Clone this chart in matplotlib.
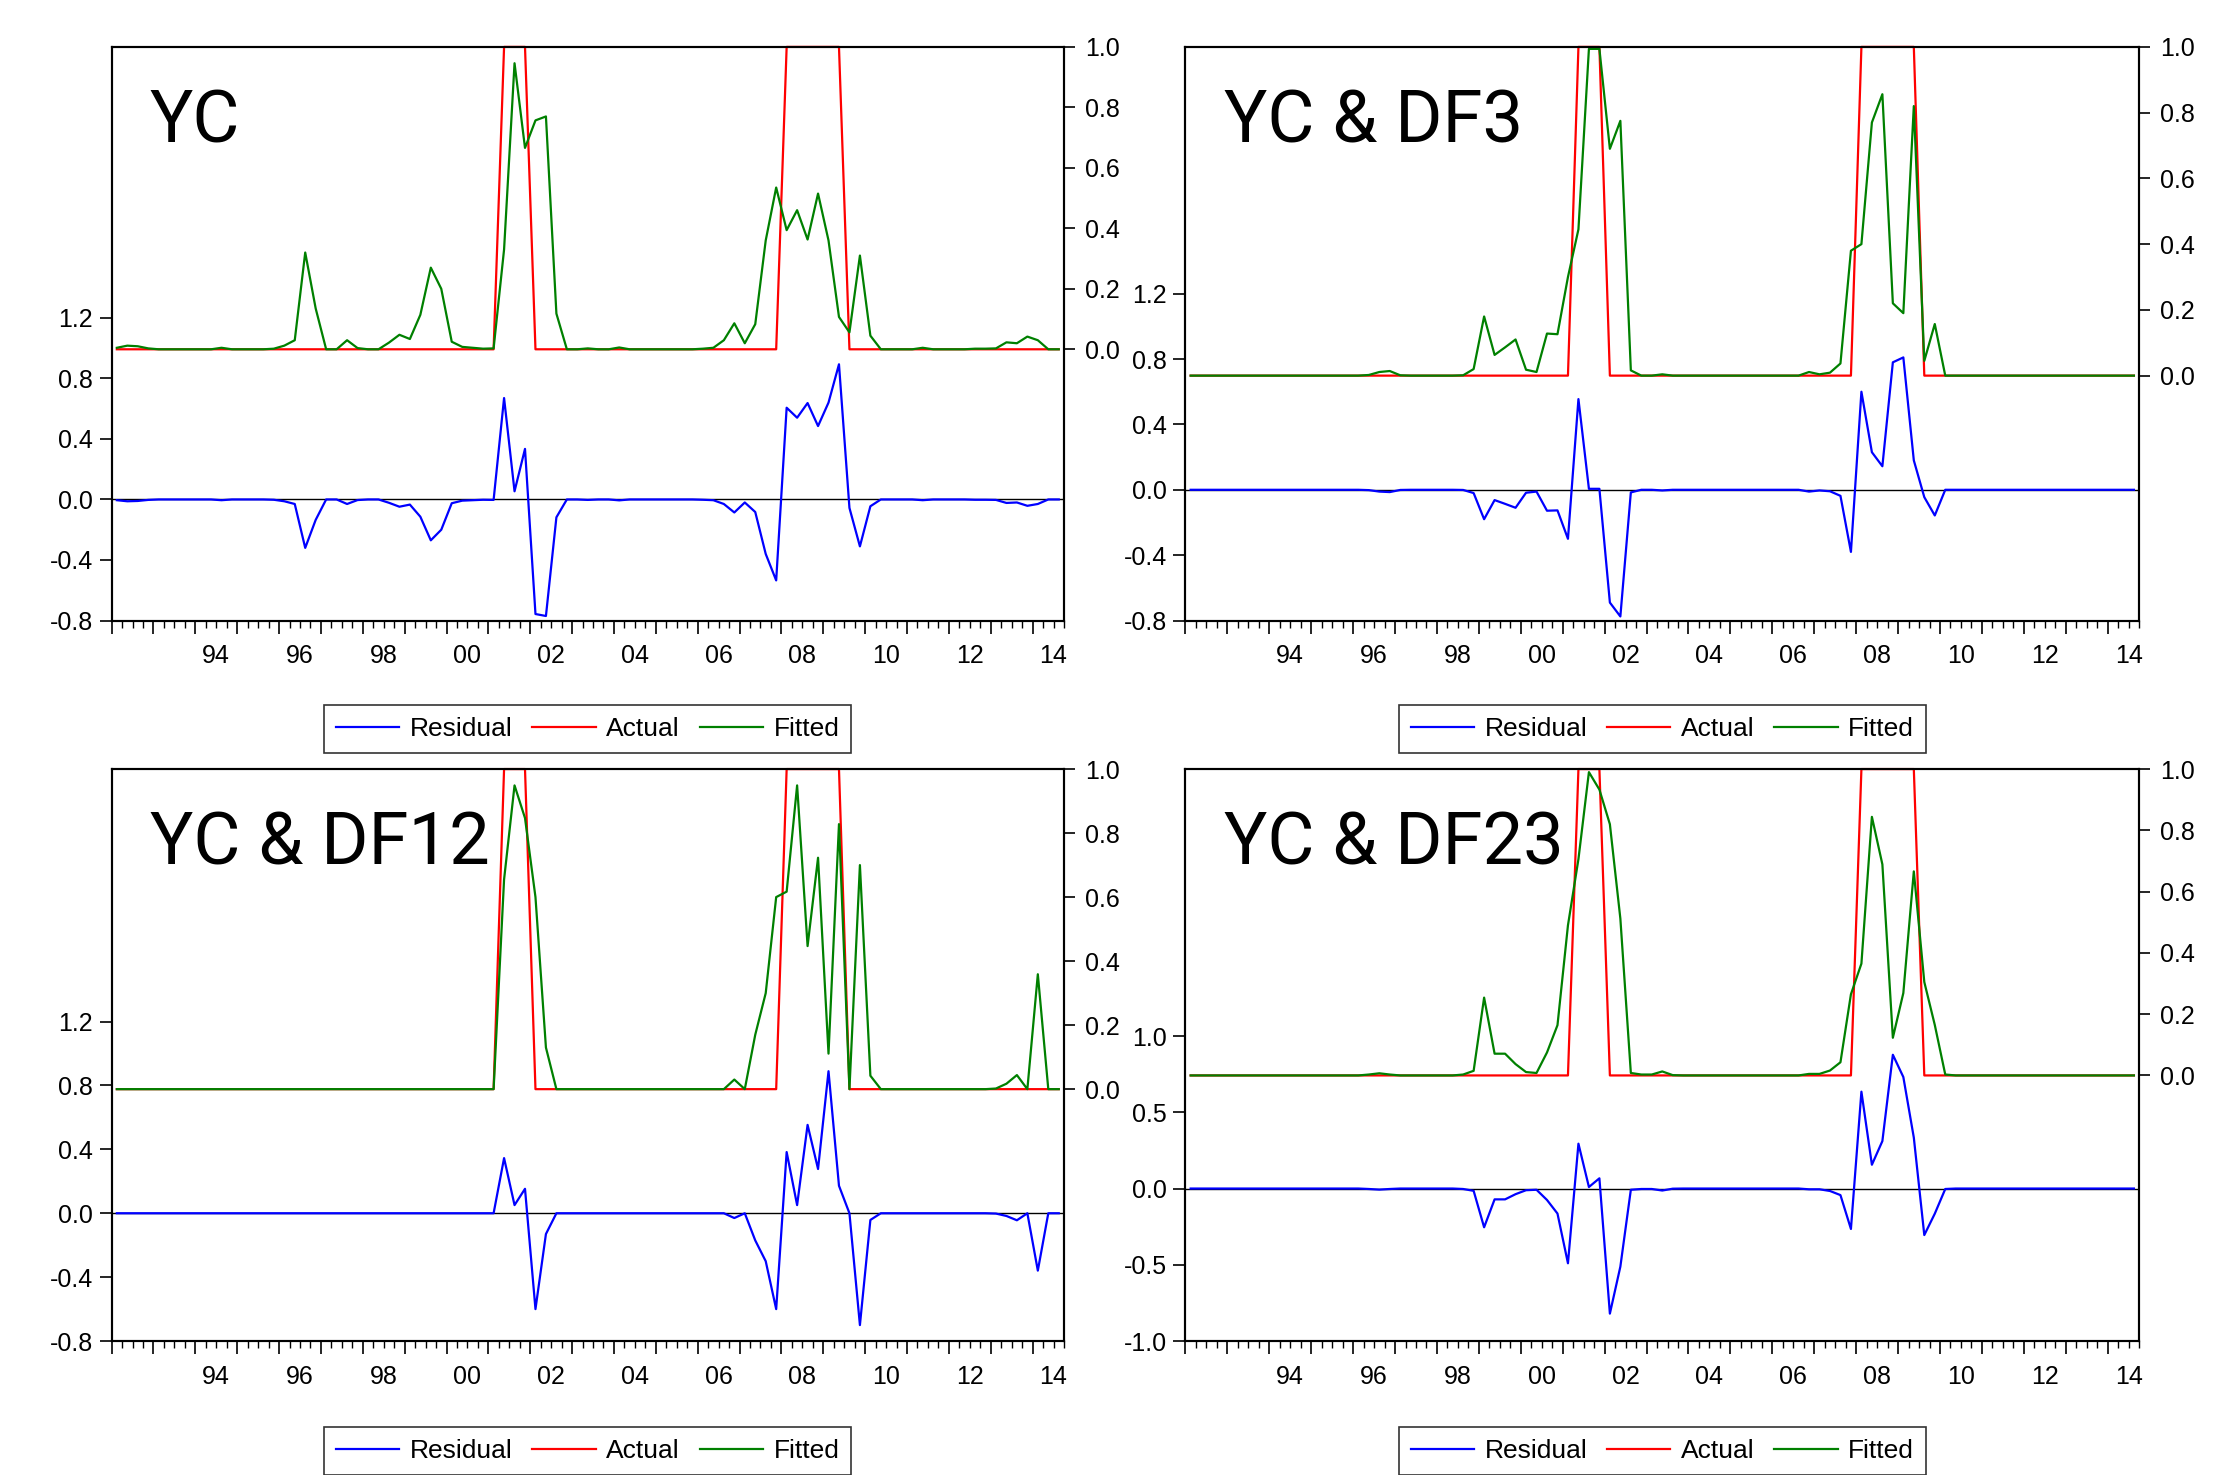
import numpy as np
import pandas as pd
import matplotlib.pyplot as plt
from matplotlib.ticker import FormatStrFormatter

plt.rcParams['font.family'] = ['Liberation Sans', 'DejaVu Sans']

# quarterly sample 1992Q1 - 2014Q3
quarters = pd.period_range("1992Q1", "2014Q3", freq="Q")

# recession indicator (actual)
actual = [0] * 37 + [1, 1, 1] + [0] * 24 + [1, 1, 1, 1, 1, 1] + [0] * 21

# fitted probabilities
fitted_yc = [
    0.005, 0.012, 0.010, 0.003, 0.0, 0.0, 0.0, 0.0, 0.0, 0.0,
    0.005, 0.0, 0.0, 0.0, 0.0, 0.002, 0.012, 0.030, 0.320, 0.135,
    0.0, 0.0, 0.030, 0.004, 0.0, 0.0, 0.022, 0.048, 0.034, 0.114,
    0.270, 0.200, 0.025, 0.008, 0.005, 0.002, 0.003, 0.330, 0.946, 0.666,
    0.757, 0.770, 0.118, 0.0, 0.0, 0.003, 0.0, 0.0, 0.006, 0.0,
    0.0, 0.0, 0.0, 0.0, 0.0, 0.0, 0.002, 0.005, 0.030, 0.086,
    0.020, 0.083, 0.360, 0.535, 0.394, 0.460, 0.363, 0.515, 0.360, 0.107,
    0.056, 0.310, 0.045, 0.0, 0.0, 0.0, 0.0, 0.005, 0.0, 0.0,
    0.0, 0.0, 0.002, 0.002, 0.003, 0.023, 0.020, 0.042, 0.030, 0.0,
    0.0,
]
fitted_df3 = [
    0.0, 0.0, 0.0, 0.0, 0.0, 0.0, 0.0, 0.0, 0.0, 0.0,
    0.0, 0.0, 0.0, 0.0, 0.0, 0.0, 0.0, 0.002, 0.011, 0.014,
    0.001, 0.0, 0.0, 0.0, 0.0, 0.0, 0.001, 0.020, 0.180, 0.063,
    0.086, 0.110, 0.018, 0.011, 0.128, 0.126, 0.300, 0.445, 0.994, 0.994,
    0.690, 0.775, 0.016, 0.0, 0.0, 0.004, 0.0, 0.0, 0.0, 0.0,
    0.0, 0.0, 0.0, 0.0, 0.0, 0.0, 0.0, 0.0, 0.0, 0.011,
    0.004, 0.009, 0.037, 0.380, 0.400, 0.770, 0.856, 0.220, 0.190, 0.820,
    0.045, 0.157, 0.0, 0.0, 0.0, 0.0, 0.0, 0.0, 0.0, 0.0,
    0.0, 0.0, 0.0, 0.0, 0.0, 0.0, 0.0, 0.0, 0.0, 0.0,
    0.0,
]
fitted_df12 = [
    0.0, 0.0, 0.0, 0.0, 0.0, 0.0, 0.0, 0.0, 0.0, 0.0,
    0.0, 0.0, 0.0, 0.0, 0.0, 0.0, 0.0, 0.0, 0.0, 0.0,
    0.0, 0.0, 0.0, 0.0, 0.0, 0.0, 0.0, 0.0, 0.0, 0.0,
    0.0, 0.0, 0.0, 0.0, 0.0, 0.0, 0.0, 0.655, 0.949, 0.847,
    0.600, 0.130, 0.0, 0.0, 0.0, 0.0, 0.0, 0.0, 0.0, 0.0,
    0.0, 0.0, 0.0, 0.0, 0.0, 0.0, 0.0, 0.0, 0.0, 0.030,
    0.0, 0.170, 0.300, 0.600, 0.617, 0.949, 0.447, 0.723, 0.111, 0.828,
    0.0, 0.700, 0.042, 0.0, 0.0, 0.0, 0.0, 0.0, 0.0, 0.0,
    0.0, 0.0, 0.0, 0.0, 0.002, 0.017, 0.044, 0.0, 0.359, 0.0,
    0.0,
]
fitted_df23 = [
    0.0, 0.0, 0.0, 0.0, 0.0, 0.0, 0.0, 0.0, 0.0, 0.0,
    0.0, 0.0, 0.0, 0.0, 0.0, 0.0, 0.0, 0.003, 0.007, 0.003,
    0.0, 0.0, 0.0, 0.0, 0.0, 0.0, 0.003, 0.015, 0.254, 0.071,
    0.071, 0.037, 0.011, 0.008, 0.075, 0.164, 0.490, 0.706, 0.990, 0.933,
    0.820, 0.512, 0.008, 0.003, 0.003, 0.013, 0.001, 0.0, 0.0, 0.0,
    0.0, 0.0, 0.0, 0.0, 0.0, 0.0, 0.0, 0.0, 0.0, 0.005,
    0.005, 0.016, 0.043, 0.265, 0.365, 0.844, 0.689, 0.123, 0.269, 0.666,
    0.305, 0.165, 0.003, 0.0, 0.0, 0.0, 0.0, 0.0, 0.0, 0.0,
    0.0, 0.0, 0.0, 0.0, 0.0, 0.0, 0.0, 0.0, 0.0, 0.0,
    0.0,
]

panel_names = ["YC", "YC & DF3", "YC & DF12", "YC & DF23"]
panel_fitted = [fitted_yc, fitted_df3, fitted_df12, fitted_df23]
resid_ticks_a = [-0.8, -0.4, 0.0, 0.4, 0.8, 1.2]
resid_ticks_b = [-1.0, -0.5, 0.0, 0.5, 1.0]
fit_ticks = [0.0, 0.2, 0.4, 0.6, 0.8, 1.0]

# axes boxes (figure fraction) and scales for each panel
boxes = [
    [0.0500, 0.5793, 0.4267, 0.3889],
    [0.5311, 0.5793, 0.4273, 0.3889],
    [0.0500, 0.0908, 0.4267, 0.3878],
    [0.5311, 0.0908, 0.4273, 0.3878],
]
left_lims = [(-0.8, 2.99), (-0.8, 2.71), (-0.8, 2.78), (-1.0, 2.75)]
right_lims = [(-0.897, 1.0), (-0.745, 1.0), (-0.787, 1.0), (-0.867, 1.0)]
left_ticks = [resid_ticks_a, resid_ticks_a, resid_ticks_a, resid_ticks_b]
legend_y = [-0.189, -0.189, -0.192, -0.192]

x = quarters.year + (quarters.quarter - 0.5) / 4.0
actual = np.array(actual, dtype=float)

# year boundaries = major ticks, quarter boundaries = minor ticks
years = np.arange(1992, 2015)
minor_pos = []
minor_lab = []
for y in years:
    for q in (0.25, 0.5, 0.75):
        minor_pos.append(y + q)
        if q == 0.5 and y % 2 == 0 and y >= 1994:
            minor_lab.append(f"{y % 100:02d}")
        else:
            minor_lab.append("")

fig = plt.figure(figsize=(22.32, 14.75), dpi=100)

for k in range(4):
    fitted = np.array(panel_fitted[k])
    resid = actual - fitted

    ax = fig.add_axes(boxes[k])
    ax2 = ax.twinx()

    ax.axhline(0, color="black", lw=1.0, zorder=1)
    l_res, = ax.plot(x, resid, color="blue", lw=1.6, zorder=2)
    # actual/fitted touch the top frame, so don't clip them
    l_act, = ax2.plot(x, actual, color="red", lw=1.6, clip_on=False)
    l_fit, = ax2.plot(x, fitted, color="green", lw=1.6, clip_on=False)

    ax.set_xlim(1992, 2014.75)
    ax.set_ylim(*left_lims[k])
    ax2.set_ylim(*right_lims[k])

    ax.set_xticks(years)
    ax.set_xticklabels([""] * len(years))
    ax.set_xticks(minor_pos, minor_lab, minor=True)
    ax.tick_params(axis="x", which="major", direction="out", length=9,
                   width=1.2, top=False)
    ax.tick_params(axis="x", which="minor", direction="out", length=5,
                   width=1.0, top=False, labelsize=18, pad=12)

    ax.set_yticks(left_ticks[k])
    ax.yaxis.set_major_formatter(FormatStrFormatter("%.1f"))
    ax.tick_params(axis="y", direction="out", length=8.5, width=1.2,
                   labelsize=18, pad=5)

    ax2.set_yticks(fit_ticks)
    ax2.yaxis.set_major_formatter(FormatStrFormatter("%.1f"))
    ax2.tick_params(axis="y", direction="out", length=8, width=1.2,
                    labelsize=18, pad=7)

    for a in (ax, ax2):
        for sp in a.spines.values():
            sp.set_linewidth(1.5)
            sp.set_color("black")

    ax2.text(0.04, 0.834, panel_names[k], transform=ax.transAxes,
             fontsize=52, family=["Roboto", "DejaVu Sans"],
             ha="left", va="baseline")

    leg = ax.legend([l_res, l_act, l_fit], ["Residual", "Actual", "Fitted"],
                    loc="center", bbox_to_anchor=(0.5, legend_y[k]),
                    ncol=3, fontsize=19, frameon=True, fancybox=False,
                    handlelength=2.4, handletextpad=0.4, columnspacing=0.75,
                    borderpad=0.45)
    leg.get_frame().set_edgecolor("black")
    leg.get_frame().set_linewidth(1.2)

fig.savefig("out.png", dpi=100)
